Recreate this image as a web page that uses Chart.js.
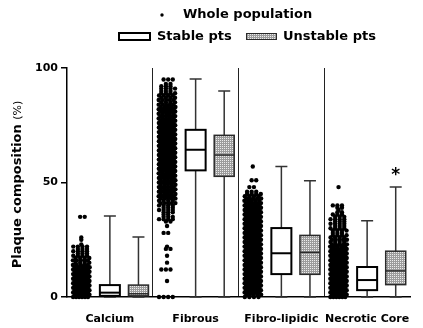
<!DOCTYPE html>
<html>
<head>
<meta charset="utf-8">
<title>Plaque composition</title>
<script src="https://cdn.jsdelivr.net/npm/chart.js@4.4.0/dist/chart.umd.min.js"></script>
<style>
    html, body { margin: 0; padding: 0; background: #fff; }
    #wrap { width: 423px; height: 328px; }
</style>
</head>
<body>
<div id="wrap"><canvas id="plaque-chart" width="423" height="328"></canvas></div>
<script>
(function() {
    'use strict';

    var categories = ['Calcium', 'Fibrous', 'Fibro-lipidic', 'Necrotic Core'];
    var seriesLabels = ['Whole population', 'Stable pts', 'Unstable pts'];
    var yTicks = [0, 50, 100];

    // Whole population: number of lesions at each 1 % step (array index = %)
    var calciumCounts = [
        6, 6, 6, 6, 6, 6, 6, 6, 6, 6, 6, 6, 6, 5, 5, 4, 5, 4, 4, 3,
        4, 3, 4, 1, 0, 1, 1, 0, 0, 0, 0, 0, 0, 0, 0, 2
    ];
    var fibrousCounts = [
        4, 0, 0, 0, 0, 0, 0, 1, 0, 0,
        0, 0, 3, 0, 0, 1, 0, 0, 1, 0,
        0, 2, 1, 0, 0, 0, 0, 0, 2, 0,
        0, 1, 0, 2, 4, 3, 2, 3, 4, 3,
        4, 5, 4, 5, 5, 5, 6, 5, 6, 5,
        6, 5, 6, 6, 5, 6, 6, 6, 6, 6,
        6, 6, 6, 6, 6, 6, 6, 6, 6, 6,
        6, 6, 6, 6, 6, 6, 6, 6, 5, 6,
        5, 6, 5, 5, 5, 4, 5, 4, 4, 4,
        3, 4, 3, 2, 0, 3
    ];
    var fibroLipidicCounts = [
        4, 5, 6, 6, 6, 6, 6, 6, 6, 6,
        6, 6, 6, 6, 6, 6, 6, 6, 6, 6,
        6, 6, 6, 6, 6, 6, 6, 6, 6, 6,
        6, 6, 6, 6, 6, 6, 6, 6, 6, 6,
        6, 6, 5, 5, 4, 4, 3, 0, 2, 0,
        0, 2, 0, 0, 0, 0, 0, 1
    ];
    var necroticCounts = [
        6, 6, 6, 6, 6, 6, 6, 6, 6, 6,
        6, 6, 6, 6, 6, 6, 6, 6, 6, 6,
        6, 6, 5, 5, 4, 5, 4, 4, 3, 4,
        4, 3, 4, 3, 4, 3, 3, 2, 1, 2,
        3, 0, 0, 0, 0, 0, 0, 0, 1
    ];
    var populationCounts = [calciumCounts, fibrousCounts, fibroLipidicCounts, necroticCounts];

    // Box plots (%): whisker ends, quartiles, median
    var stableMin = [0, 0, 0, 0];
    var stableQ1 = [0.5, 55.3, 10, 3];
    var stableMedian = [1.9, 64.3, 19.1, 7.4];
    var stableQ3 = [5.2, 73, 30.1, 13.1];
    var stableMax = [35.4, 95.2, 57, 33.3];

    var unstableMin = [0, 0, 0, 0];
    var unstableQ1 = [0.5, 52.7, 9.9, 5.4];
    var unstableMedian = [1.4, 62, 19.5, 11.4];
    var unstableQ3 = [5.2, 70.6, 26.9, 20];
    var unstableMax = [26.2, 90, 50.8, 48];

    var unstableSignificance = ['', '', '', '*'];

    // Each category takes three slots on the x axis: dots, stable, unstable
    var SLOTS = 3;
    var SWARM_WIDTH = 0.52;
    var MAX_SPACING = 0.16;
    var BOX_WIDTH = 0.7;
    var CAP_WIDTH = 0.42;
    var FONT = '"DejaVu Sans", Verdana, sans-serif';

    function hatchPattern() {
        var c = document.createElement('canvas');
        c.width = 2;
        c.height = 2;
        var g = c.getContext('2d');
        g.fillStyle = '#9c9c9c';
        g.fillRect(0, 0, 2, 2);
        g.fillStyle = '#ececec';
        g.fillRect(0, 0, 1, 1);
        return g.createPattern(c, 'repeat');
    }

    var boxSeries = [
        {
            label: seriesLabels[1], slot: 1.5,
            min: stableMin, q1: stableQ1, median: stableMedian, q3: stableQ3, max: stableMax,
            fill: '#fff', border: '#000', borderWidth: 2
        },
        {
            label: seriesLabels[2], slot: 2.5,
            min: unstableMin, q1: unstableQ1, median: unstableMedian, q3: unstableQ3, max: unstableMax,
            fill: hatchPattern(), border: '#2a2a2a', borderWidth: 1.5,
            marks: unstableSignificance
        }
    ];

    // Column scatter: dots of one row are spread around the slot centre,
    // every other row nudged sideways so the dots interlock
    function swarmPoints(counts, center) {
        var pts = [];
        counts.forEach(function(n, value) {
            var step = n > 1 ? Math.min(MAX_SPACING, SWARM_WIDTH / (n - 1)) : 0;
            var nudge = n > 1 ? (value % 2 ? step / 4 : -step / 4) : 0;
            for (var i = 0; i < n; i++) {
                pts.push({ x: center + nudge + (i - (n - 1) / 2) * step, y: value });
            }
        });
        return pts;
    }

    var dots = [];
    populationCounts.forEach(function(counts, i) {
        dots = dots.concat(swarmPoints(counts, i * SLOTS + 0.5));
    });

    var boxPlugin = {
        id: 'boxes',
        afterDatasetsDraw: function(chart) {
            var ctx = chart.ctx;
            var xs = chart.scales.x;
            var ys = chart.scales.y;
            var unit = xs.getPixelForValue(1) - xs.getPixelForValue(0);

            boxSeries.forEach(function(s) {
                categories.forEach(function(cat, i) {
                    var cx = xs.getPixelForValue(i * SLOTS + s.slot);
                    var hw = BOX_WIDTH * unit / 2;
                    var cw = CAP_WIDTH * unit / 2;
                    var yMin = ys.getPixelForValue(s.min[i]);
                    var yQ1 = ys.getPixelForValue(s.q1[i]);
                    var yMed = ys.getPixelForValue(s.median[i]);
                    var yQ3 = ys.getPixelForValue(s.q3[i]);
                    var yMax = ys.getPixelForValue(s.max[i]);

                    ctx.save();
                    // whiskers and caps
                    ctx.strokeStyle = '#333';
                    ctx.lineWidth = 1.5;
                    ctx.beginPath();
                    ctx.moveTo(cx, yMin); ctx.lineTo(cx, yQ1);
                    ctx.moveTo(cx, yQ3); ctx.lineTo(cx, yMax);
                    ctx.moveTo(cx - cw, yMax); ctx.lineTo(cx + cw, yMax);
                    ctx.moveTo(cx - cw, yMin); ctx.lineTo(cx + cw, yMin);
                    ctx.stroke();

                    // box
                    ctx.fillStyle = s.fill;
                    ctx.fillRect(cx - hw, yQ3, hw * 2, yQ1 - yQ3);
                    ctx.strokeStyle = s.border;
                    ctx.lineWidth = s.borderWidth;
                    ctx.strokeRect(cx - hw, yQ3, hw * 2, yQ1 - yQ3);

                    // median
                    ctx.beginPath();
                    ctx.moveTo(cx - hw, yMed);
                    ctx.lineTo(cx + hw, yMed);
                    ctx.stroke();

                    if (s.marks && s.marks[i]) {
                        ctx.fillStyle = '#000';
                        ctx.font = 'bold 17px ' + FONT;
                        ctx.textAlign = 'center';
                        ctx.textBaseline = 'middle';
                        ctx.fillText(s.marks[i], cx, yMax - 12);
                    }
                    ctx.restore();
                });
            });
        },
        afterDraw: function(chart) {
            var ctx = chart.ctx;
            var area = chart.chartArea;
            ctx.save();
            ctx.fillStyle = '#000';
            ctx.textBaseline = 'middle';
            ctx.textAlign = 'left';
            ctx.font = 'bold 13px ' + FONT;

            // legend, first row
            ctx.beginPath();
            ctx.arc(162, 15, 1.7, 0, Math.PI * 2);
            ctx.fill();
            ctx.fillText(seriesLabels[0], 183, 15);

            // legend, second row
            ctx.fillStyle = boxSeries[0].fill;
            ctx.fillRect(119, 33, 31, 7);
            ctx.strokeStyle = boxSeries[0].border;
            ctx.lineWidth = 2;
            ctx.strokeRect(119, 33, 31, 7);
            ctx.fillStyle = '#000';
            ctx.fillText(seriesLabels[1], 157, 37);

            ctx.fillStyle = boxSeries[1].fill;
            ctx.fillRect(246, 33, 31, 7);
            ctx.strokeStyle = boxSeries[1].border;
            ctx.lineWidth = 1;
            ctx.strokeRect(246.5, 33.5, 30, 6);
            ctx.fillStyle = '#000';
            ctx.fillText(seriesLabels[2], 283, 37);

            // y axis title, two weights
            var main = 'Plaque composition ';
            var unitText = '(%)';
            ctx.translate(21, (area.top + area.bottom) / 2 + 2);
            ctx.rotate(-Math.PI / 2);
            ctx.textBaseline = 'alphabetic';
            ctx.font = 'bold 13px ' + FONT;
            var w1 = ctx.measureText(main).width;
            ctx.font = '11px ' + FONT;
            var w2 = ctx.measureText(unitText).width;
            var start = -(w1 + w2) / 2;
            ctx.font = 'bold 13px ' + FONT;
            ctx.fillText(main, start, 0);
            ctx.font = '11px ' + FONT;
            ctx.fillText(unitText, start + w1, 0);
            ctx.restore();
        }
    };

    var tickValues = [];
    categories.forEach(function(cat, i) {
        tickValues.push(i * SLOTS + SLOTS / 2);
        if (i > 0) tickValues.push(i * SLOTS);
    });

    new Chart(document.getElementById('plaque-chart'), {
        type: 'scatter',
        data: {
            datasets: [{
                label: seriesLabels[0],
                data: dots,
                pointRadius: 2.2,
                pointBackgroundColor: '#000',
                pointBorderWidth: 0,
                clip: false
            }]
        },
        options: {
            responsive: false,
            devicePixelRatio: 1,
            animation: false,
            events: [],
            layout: { padding: { top: 68, right: 13, bottom: 0, left: 0 } },
            plugins: {
                legend: { display: false },
                tooltip: { enabled: false }
            },
            scales: {
                x: {
                    type: 'linear',
                    min: 0,
                    max: categories.length * SLOTS,
                    afterBuildTicks: function(scale) {
                        scale.ticks = tickValues.map(function(v) { return { value: v }; });
                    },
                    afterFit: function(scale) { scale.height = 31; },
                    ticks: {
                        autoSkip: false,
                        maxRotation: 0,
                        padding: 16,
                        color: '#000',
                        font: { family: FONT, size: 11, weight: 'bold' },
                        callback: function(value) {
                            return value % SLOTS === 0 ? '' : categories[Math.floor(value / SLOTS)];
                        }
                    },
                    grid: {
                        drawTicks: false,
                        lineWidth: 1,
                        color: function(c) {
                            return c.tick && c.tick.value % SLOTS === 0 ? '#222' : 'rgba(0,0,0,0)';
                        }
                    },
                    border: { color: '#000', width: 1.5 }
                },
                y: {
                    min: 0,
                    max: 100,
                    afterBuildTicks: function(scale) {
                        scale.ticks = yTicks.map(function(v) { return { value: v }; });
                    },
                    afterFit: function(scale) { scale.width = 67; },
                    ticks: {
                        padding: 3,
                        color: '#000',
                        font: { family: FONT, size: 11, weight: 'bold' }
                    },
                    grid: {
                        drawOnChartArea: false,
                        tickLength: 6,
                        lineWidth: 1.5,
                        color: '#000'
                    },
                    border: { color: '#000', width: 1.5 }
                }
            }
        },
        plugins: [boxPlugin]
    });
})();
</script>
</body>
</html>
